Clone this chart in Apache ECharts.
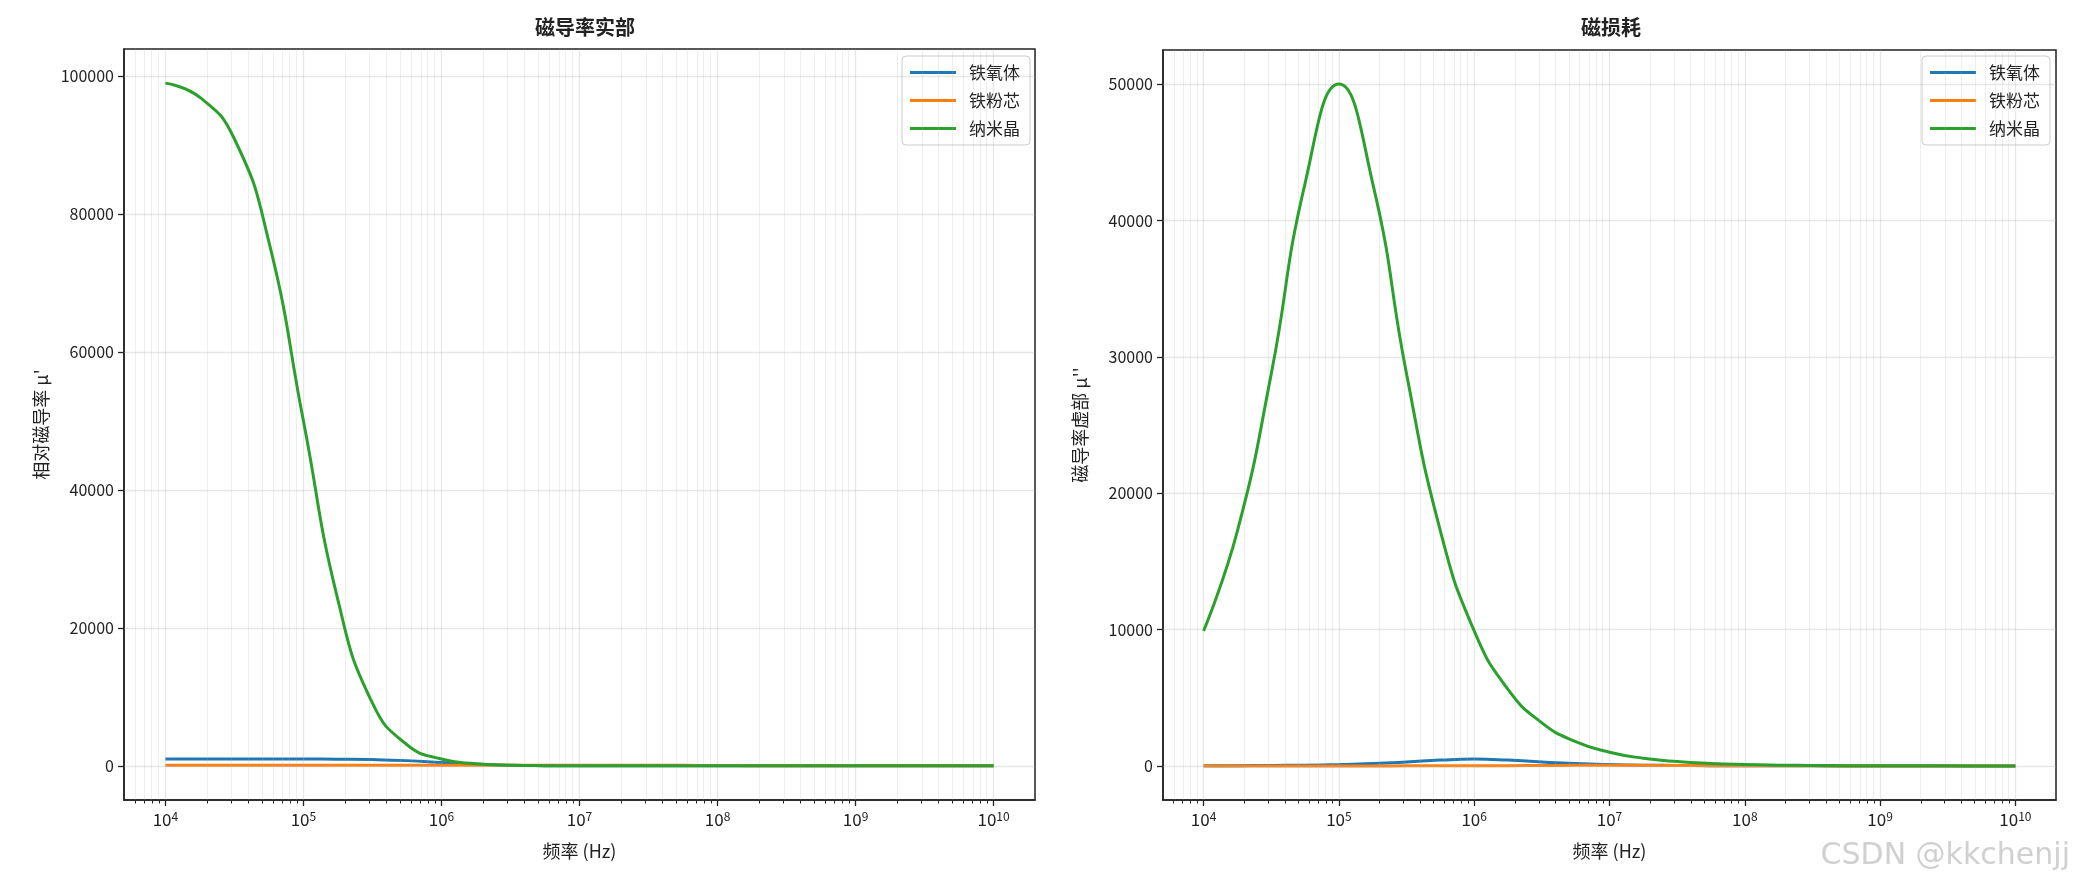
<!DOCTYPE html>
<html>
<head>
<meta charset="utf-8">
<script src="https://cdn.jsdelivr.net/npm/echarts@6/dist/echarts.min.js"></script>
<style>html,body{margin:0;padding:0;background:#fff}#chart{width:2084px;height:881px}</style>
</head>
<body>
<div id="chart"></div>
<script>
// frequency exponents (log10 Hz), quarter decades from 1e4 to 1e10
const logFreq = [4,4.25,4.5,4.75,5,5.25,5.5,5.75,6,6.25,6.5,6.75,7,7.25,7.5,7.75,8,8.25,8.5,8.75,9,9.25,9.5,9.75,10];
const names = ["铁氧体", "铁粉芯", "纳米晶"];
const colors = ["#1f77b4", "#ff7f0e", "#2ca02c"];

// real part
const ferriteRe = [1000,1000,999,997,990,969,909,760,500,240,91,31,10,3,1,0,0,0,0,0,0,0,0,0,0];
const powderRe  = [100,100,100,100,100,100,100,100,100,100,100,100,99,97,91,76,50,24,9,3,1,0,0,0,0];
const nanoRe    = [99010,96935,90909,75975,50000,24025,9091,3065,990,315,100,32,10,3,1,0,0,0,0,0,0,0,0,0,0];
// imaginary part
const ferriteIm = [10,18,32,56,99,172,287,427,500,427,287,172,99,56,32,18,10,6,3,2,1,1,0,0,0];
const powderIm  = [0.1,0.2,0.3,0.6,1,1.8,3.2,5.6,9.9,17,29,43,50,43,29,17,10,5.6,3.2,1.8,1,0.6,0.3,0.2,0.1];
const nanoIm    = [9901,17235,28748,42722,50000,42722,28748,17235,9901,5607,3159,1778,1000,562,316,178,100,56,32,18,10,6,3,2,1];

const majorX = [4,5,6,7,8,9,10];
const leftY = [0,20000,40000,60000,80000,100000];
const rightY = [0,10000,20000,30000,40000,50000];

const minorX = [];
for (let d = 3; d <= 10; d++) {
    for (let k = 2; k <= 9; k++) {
        const v = d + Math.log10(k);
        if (v > 3.7 && v < 10.3) minorX.push(v);
    }
}

const chart = echarts.init(document.getElementById("chart"));
const font = "'Noto Sans CJK SC', 'DejaVu Sans', sans-serif";
const gridColor = "rgba(176,176,176,0.3)";

function pairs(ys) { return logFreq.map((x, i) => [x, ys[i]]); }

function gridLines(yTicks) {
    const data = [];
    majorX.forEach(v => data.push({xAxis: v, lineStyle: {color: gridColor, width: 1.3}}));
    minorX.forEach(v => data.push({xAxis: v, lineStyle: {color: "rgba(176,176,176,0.22)", width: 1}}));
    yTicks.forEach(v => data.push({yAxis: v, lineStyle: {color: gridColor, width: 1.3}}));
    return {symbol: "none", silent: true, label: {show: false}, animation: false, lineStyle: {type: "solid"}, data: data};
}

function xAxes(gi) {
    return [{
        type: "value", gridIndex: gi, min: 3.7, max: 10.3,
        splitLine: {show: false},
        axisLine: {onZero: false, lineStyle: {color: "#222", width: 1.5}},
        axisTick: {customValues: majorX, length: 6, lineStyle: {color: "#222", width: 1.3}},
        axisLabel: {
            customValues: majorX, margin: 10,
            formatter: v => "{b|10}{s|" + Math.round(v) + "}",
            rich: {b: {fontSize: 17, fontFamily: font, color: "#222"}, s: {fontSize: 12, fontFamily: font, color: "#222", verticalAlign: "top", padding: [0, 0, 8, 0]}}
        },
        name: "频率 (Hz)", nameLocation: "middle", nameGap: 42,
        nameTextStyle: {fontSize: 18, fontFamily: font, color: "#222"}
    }, {
        type: "value", gridIndex: gi, min: 3.7, max: 10.3, position: "bottom",
        splitLine: {show: false}, axisLine: {show: false, onZero: false},
        axisTick: {customValues: minorX, length: 3.5, lineStyle: {color: "#222", width: 1}},
        axisLabel: {show: false}
    }];
}

function yAxis(gi, min, max, ticks, name) {
    return {
        type: "value", gridIndex: gi, min: min, max: max,
        splitLine: {show: false},
        axisLine: {show: true, onZero: false, lineStyle: {color: "#222", width: 1.5}},
        axisTick: {show: true, customValues: ticks, length: 6, lineStyle: {color: "#222", width: 1.3}},
        axisLabel: {customValues: ticks, fontSize: 16, fontFamily: font, color: "#222", margin: 10, formatter: v => String(v)},
        name: name, nameLocation: "middle", nameGap: 74,
        nameTextStyle: {fontSize: 18, fontFamily: font, color: "#222"}
    };
}

function lines(ax, data3, yTicks) {
    return data3.map((d, i) => ({
        name: names[i], type: "line", xAxisIndex: ax * 2, yAxisIndex: ax,
        data: pairs(d), smooth: 0.5, showSymbol: false, symbol: "none",
        lineStyle: {color: colors[i], width: 3}, itemStyle: {color: colors[i]},
        z: 3 + i,
        markLine: i === 0 ? gridLines(yTicks) : undefined
    }));
}

const legendBase = {
    orient: "vertical", itemWidth: 46, itemHeight: 3, itemGap: 11,
    backgroundColor: "rgba(255,255,255,0.8)", borderColor: "#ccc", borderWidth: 1, borderRadius: 4,
    padding: [8, 10, 8, 8],
    textStyle: {fontSize: 17, fontFamily: font, color: "#222", padding: [0, 0, 0, 8]},
    icon: "rect", data: names
};

const option = {
    animation: false,
    backgroundColor: "#fff",
    title: [
        {text: "磁导率实部", left: 580, top: 12, textAlign: "center", textStyle: {fontSize: 20, fontWeight: "bold", fontFamily: font, color: "#222"}},
        {text: "磁损耗", left: 1606, top: 12, textAlign: "center", textStyle: {fontSize: 20, fontWeight: "bold", fontFamily: font, color: "#222"}}
    ],
    grid: [
        {left: 124, top: 49, width: 911, height: 751, show: true, borderColor: "#222", borderWidth: 1.5, backgroundColor: "transparent"},
        {left: 1163, top: 50, width: 893, height: 750, show: true, borderColor: "#222", borderWidth: 1.5, backgroundColor: "transparent"}
    ],
    xAxis: xAxes(0).concat(xAxes(1)),
    yAxis: [
        yAxis(0, -4950, 103960, leftY, "相对磁导率 μ'"),
        yAxis(1, -2500, 52500, rightY, "磁导率虚部 μ''")
    ],
    legend: [
        Object.assign({}, legendBase, {right: 2084 - 1030, top: 56, seriesIndex: [0, 1, 2]}),
        Object.assign({}, legendBase, {right: 2084 - 2050, top: 56})
    ],
    series: lines(0, [ferriteRe, powderRe, nanoRe], leftY).concat(
        lines(1, [ferriteIm, powderIm, nanoIm], rightY).map(s => Object.assign(s, {xAxisIndex: 2, yAxisIndex: 1}))
    ),
    graphic: [{
        type: "text", right: 14, bottom: 10,
        style: {text: "CSDN @kkchenjj", fontSize: 30, fontFamily: "'DejaVu Sans', sans-serif", fill: "rgba(200,200,200,0.85)"}
    }]
};
chart.setOption(option);
</script>
</body>
</html>
